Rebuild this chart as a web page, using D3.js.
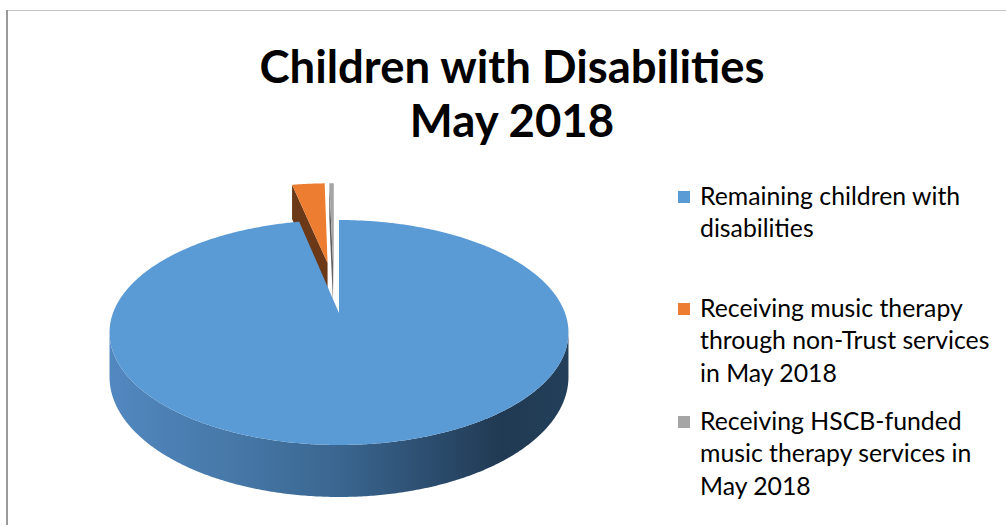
<!DOCTYPE html>
<html>
<head>
<meta charset="utf-8">
<script src="https://cdn.jsdelivr.net/npm/d3@7"></script>
<style>
  html, body { margin: 0; padding: 0; background: #fff; overflow: hidden; }
  text { font-family: Lato, "Open Sans", sans-serif; fill: #000; }
</style>
</head>
<body>
<svg id="chart" width="1006" height="525"></svg>
<script>
// ---- data ----
const titleLines = ["Children with Disabilities", "May 2018"];
const categories = [
  "Remaining children with disabilities",
  "Receiving music therapy through non-Trust services in May 2018",
  "Receiving HSCB-funded music therapy services in May 2018"
];
const shares = [96.7, 2.9, 0.4];   // percent of children with disabilities
const legendLines = [
  ["Remaining children with", "disabilities"],
  ["Receiving music therapy", "through non-Trust services", "in May 2018"],
  ["Receiving HSCB-funded", "music therapy services in", "May 2018"]
];

// ---- styling ----
const topColor = d3.scaleOrdinal(categories, ["#5B9BD5", "#ED7D31", "#A5A5A5"]);
const sideColor = d3.scaleOrdinal(categories, ["#2F5479", "#6B3917", "#5E5E5E"]);

const svg = d3.select("#chart");
const W = 1006, H = 525;

// chart frame
svg.append("line").attr("x1", 7).attr("x2", W).attr("y1", 10.5).attr("y2", 10.5)
  .attr("stroke", "#c4c4c4").attr("stroke-width", 1.2);
svg.append("line").attr("x1", 7).attr("x2", 7).attr("y1", 10).attr("y2", H)
  .attr("stroke", "#9a9a9a").attr("stroke-width", 2);

// title
const title = svg.append("text").attr("text-anchor", "middle")
  .style("font-weight", "700").style("font-size", "45.5px");
titleLines.forEach((t, i) => {
  title.append("tspan").attr("x", 512).attr("y", 83 + i * 54).text(t);
});

// ---- 3D pie: perspective view of a flat disc of radius 1 ----
// plane coords: u to the right, v toward the viewer; the camera sits at v = 1/k
const view = { x0: 339, y0: 313, a: 226, b: 109.1, k: 0.1733, depth: 43 };
const explode = 0.25;
function project(u, v, bottom) {
  const w = 1 - view.k * v;
  return [view.x0 + view.a * u / w, view.y0 + (view.b * v + (bottom ? view.depth : 0)) / w];
}
const dir = t => [Math.sin(t), -Math.cos(t)];
const cam = [0, 1 / view.k];

const pie = d3.pie().sort(null).value(d => d.value);
const arcs = pie(categories.map((c, i) => ({ name: c, value: shares[i] })));

// offset every slice outward from the disc centre; the largest slice defines the origin
const mid0 = (arcs[0].startAngle + arcs[0].endAngle) / 2;
const centre = [-explode * dir(mid0)[0], -explode * dir(mid0)[1]];
arcs.forEach(a => {
  const m = (a.startAngle + a.endAngle) / 2;
  a.apex = [centre[0] + explode * dir(m)[0], centre[1] + explode * dir(m)[1]];
  const n = Math.max(2, Math.ceil((a.endAngle - a.startAngle) / (Math.PI / 360)));
  a.angles = d3.range(n + 1).map(i => a.startAngle + (a.endAngle - a.startAngle) * i / n);
  a.rim = t => [a.apex[0] + dir(t)[0], a.apex[1] + dir(t)[1]];
});

const line = d3.line();
const defs = svg.append("defs");
const grad = defs.append("linearGradient").attr("id", "sideBlue")
  .attr("gradientUnits", "userSpaceOnUse").attr("x1", 110).attr("x2", 570).attr("y1", 0).attr("y2", 0);
[[0, "#5288c0"], [0.25, "#4779a9"], [0.5, "#3a6690"], [0.72, "#2a4a6a"], [0.85, "#213a53"], [1, "#233f59"]]
  .forEach(([o, c]) => grad.append("stop").attr("offset", o).attr("stop-color", c));

const pieG = svg.append("g");
// far slices first so nearer ones paint over them
const order = arcs.slice().sort((p, q) => p.apex[1] - q.apex[1]);
order.forEach(a => {
  const g = pieG.append("g");
  const name = a.data.name;

  // outer curved wall: only the part that faces the camera
  const front = a.angles.filter(t => {
    const p = a.rim(t), d = dir(t);
    return (cam[0] - p[0]) * d[0] + (cam[1] - p[1]) * d[1] > 0;
  });
  if (front.length > 1) {
    const pts = front.map(t => project(...a.rim(t), false))
      .concat(front.slice().reverse().map(t => project(...a.rim(t), true)));
    g.append("path").attr("d", line(pts) + "Z")
      .attr("fill", a.index === 0 ? "url(#sideBlue)" : sideColor(name));
  }

  // radial cut walls
  [[a.startAngle, -1], [a.endAngle, 1]].forEach(([t, s]) => {
    const nrm = [s * Math.cos(t), s * Math.sin(t)];
    const vis = (cam[0] - a.apex[0]) * nrm[0] + (cam[1] - a.apex[1]) * nrm[1];
    if (vis <= 0) return;
    const e = a.rim(t);
    const pts = [project(...a.apex, false), project(...e, false), project(...e, true), project(...a.apex, true)];
    g.append("path").attr("d", line(pts) + "Z").attr("fill", sideColor(name));
  });

  // top face
  const topPts = [project(...a.apex, false)].concat(a.angles.map(t => project(...a.rim(t), false)));
  g.append("path").attr("d", line(topPts) + "Z").attr("fill", topColor(name));
});

// ---- legend ----
const legendTop = [191, 303, 416];
const leg = svg.append("g");
categories.forEach((c, i) => {
  leg.append("rect").attr("x", 678).attr("y", legendTop[i]).attr("width", 12).attr("height", 12)
    .attr("fill", topColor(c));
  const t = leg.append("text").style("font-size", "24.8px");
  legendLines[i].forEach((s, j) => {
    t.append("tspan").attr("x", 700).attr("y", legendTop[i] + 14 + j * 32.3).text(s);
  });
});
</script>
</body>
</html>
